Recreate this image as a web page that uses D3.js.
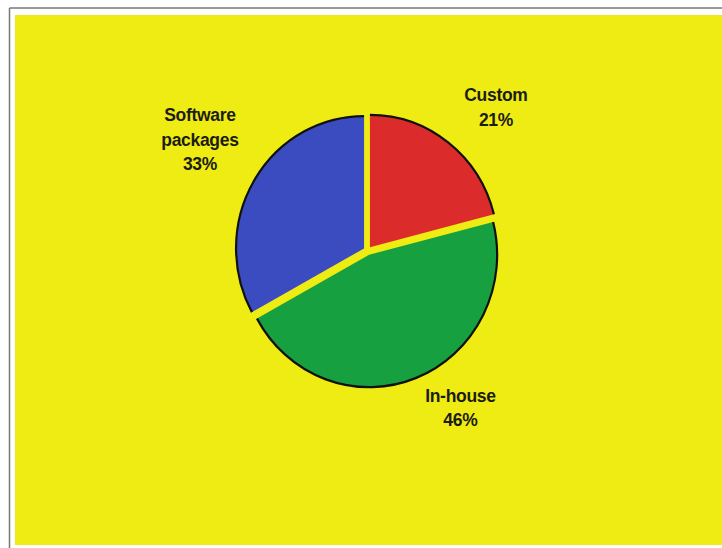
<!DOCTYPE html>
<html>
<head>
<meta charset="utf-8">
<script src="https://cdn.jsdelivr.net/npm/d3@7"></script>
<style>
  body { margin: 0; background: #fff; }
  svg { display: block; }
  .lbl { font-family: "Liberation Sans", Arial, sans-serif; font-weight: bold; font-size: 17.5px; fill: #1c1c14; letter-spacing: -0.3px; }
</style>
</head>
<body>
<div id="chart"></div>
<script>
var categories = ["Custom", "In-house", "Software packages"],
    shares = [21, 46, 33],
    labelLines = [["Custom", "21%"], ["In-house", "46%"], ["Software", "packages", "33%"]],
    sliceColors = ["#dc2b2b", "#17a03f", "#3a4cc0"];

var width = 722, height = 548;
var bg = "#eeec12";
var cx = 367.5, cy = 250.5, radius = 128, yStretch = 1.034;
var explode = { "Custom": 4, "In-house": 4.5, "Software packages": 4 };
// label placement: centroid on a ring plus a small nudge per label
var labelRing = 190;
var labelNudge = { "Custom": [12, 7], "In-house": [23, -19], "Software packages": [-4, -14] };

var svg = d3.select("#chart").append("svg")
    .attr("width", width)
    .attr("height", height);

// frame
svg.append("rect").attr("x", 15).attr("y", 15).attr("width", width - 15).attr("height", 530).attr("fill", bg);
svg.append("line").attr("x1", 9.5).attr("y1", 8).attr("x2", width).attr("y2", 8)
    .attr("stroke", "#777").attr("stroke-width", 1.5);
svg.append("line").attr("x1", 9.5).attr("y1", 8).attr("x2", 9.5).attr("y2", height)
    .attr("stroke", "#777").attr("stroke-width", 1.5);

var data = categories.map(function (c, i) {
    return { name: c, value: shares[i], color: sliceColors[i], lines: labelLines[i] };
});

var pie = d3.pie().sort(null).value(function (d) { return d.value; });
var arcs = pie(data);

var arc = d3.arc().innerRadius(0).outerRadius(radius);
var rim = d3.arc().innerRadius(radius).outerRadius(radius);
var labelArc = d3.arc().innerRadius(labelRing).outerRadius(labelRing);

var g = svg.append("g")
    .attr("transform", "translate(" + cx + "," + cy + ") scale(1," + yStretch + ")");

var slice = g.selectAll(".slice")
    .data(arcs)
    .enter().append("g")
    .attr("class", "slice")
    .attr("transform", function (d) {
        var a = (d.startAngle + d.endAngle) / 2, e = explode[d.data.name];
        return "translate(" + (Math.sin(a) * e) + "," + (-Math.cos(a) * e) + ")";
    });

slice.append("path")
    .attr("d", arc)
    .attr("fill", function (d) { return d.data.color; });

slice.append("path")
    .attr("d", rim)
    .attr("fill", "none")
    .attr("stroke", "#111")
    .attr("stroke-width", 2.2);

// labels
var lineGap = 24.5;
arcs.forEach(function (d) {
    var c = labelArc.centroid(d), n = labelNudge[d.data.name];
    var x = cx + c[0] + n[0], y = cy + c[1] + n[1];
    var lines = d.data.lines;
    var first = y - (lines.length - 1) * lineGap / 2 + 6;
    var t = svg.append("text").attr("class", "lbl").attr("text-anchor", "middle");
    lines.forEach(function (s, i) {
        t.append("tspan").attr("x", x).attr("y", first + i * lineGap).text(s);
    });
});
</script>
</body>
</html>
